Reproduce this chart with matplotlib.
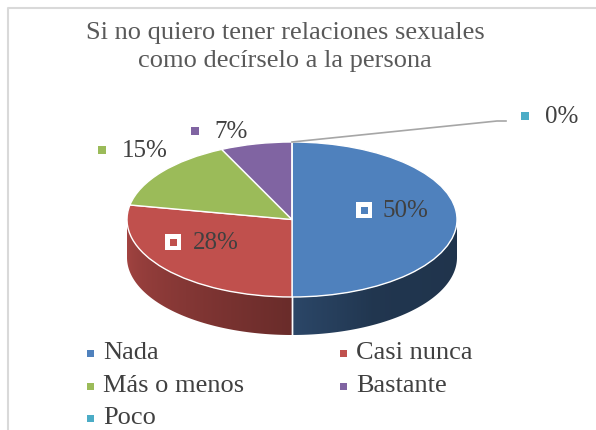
import numpy as np
import matplotlib
matplotlib.use("Agg")
import matplotlib.pyplot as plt
from matplotlib.patches import Polygon, Rectangle
from matplotlib.colors import to_rgb

# Datos
categorias = ["Nada", "Casi nunca", "Más o menos", "Bastante", "Poco"]
valores = [50, 28, 15, 7, 0]
etiquetas = ["50%", "28%", "15%", "7%", "0%"]
colores = ["#4F81BD", "#C0504D", "#9BBB59", "#8064A2", "#4BACC6"]
titulo = "Si no quiero tener relaciones sexuales\ncomo decírselo a la persona"

plt.rcParams['font.family'] = ['Liberation Serif', 'DejaVu Serif']
W, H = 596, 430
fig = plt.figure(figsize=(W / 100, H / 100), dpi=100)

# capa de fondo en pixeles
fondo = fig.add_axes([0, 0, 1, 1])
fondo.set_xlim(0, W)
fondo.set_ylim(H, 0)
fondo.axis('off')
fondo.plot([8, 8, W + 5], [H + 5, 8, 8], color="#D9D9D9", lw=1.5)

# pastel 3D simulado: elipse superior + lado frontal
cx0, cx1 = 127, 457
cy_top, cy_bot = 142, 297
prof = 38 / ((cy_bot - cy_top) / 2)
ax = fig.add_axes([cx0 / W, (H - (cy_bot + 38)) / H,
                   (cx1 - cx0) / W, (cy_bot + 38 - cy_top) / H])
cunas, _ = ax.pie(valores, colors=colores, startangle=90, counterclock=False,
                  wedgeprops=dict(edgecolor="white", linewidth=1))
for c in cunas:
    c.set_zorder(3)
ax.set_aspect('auto')
ax.axis('off')


def sombra(a):
    return np.interp(a, [-180, -90, -60, 0], [0.86, 0.55, 0.42, 0.40])


# lado frontal como imagen con degradado recortada
xs = np.linspace(-1, 1, 600)
angs = -np.degrees(np.arccos(xs))
img = np.ones((1, len(xs), 3))
for c, col in zip(cunas, colores):
    base = np.array(to_rgb(col))
    for k in (-360, 0, 360):
        m = (angs >= c.theta1 + k) & (angs <= c.theta2 + k)
        img[0, m] = base[None, :] * sombra(angs[m])[:, None]
im = ax.imshow(img, extent=(-1, 1, -1 - prof, 0), aspect='auto',
               interpolation='bilinear', zorder=1)
t = np.radians(np.linspace(-180, 0, 200))
borde = np.vstack([np.column_stack([np.cos(t), np.sin(t)]),
                   np.column_stack([np.cos(t[::-1]), np.sin(t[::-1]) - prof])])
clip = Polygon(borde, closed=True, facecolor='none', edgecolor='none',
               transform=ax.transData)
ax.add_patch(clip)
im.set_clip_path(clip)
ax.set_xlim(-1, 1)
ax.set_ylim(-1 - prof, 1)

# lineas blancas entre lados
for c in cunas:
    for tt in (c.theta1, c.theta2):
        tt = (tt + 180) % 360 - 180
        if -180 < tt < 0:
            r = np.radians(tt)
            ax.plot([np.cos(r)] * 2, [np.sin(r), np.sin(r) - prof],
                    color="white", lw=1, zorder=2)

# capa de textos encima
capa = fig.add_axes([0, 0, 1, 1])
capa.set_xlim(0, W)
capa.set_ylim(H, 0)
capa.axis('off')
capa.patch.set_alpha(0)

capa.text(285, 47, titulo, ha='center', va='center', fontsize=19,
          color="#595959", linespacing=1.32)

# etiquetas de datos
pos_etq = [(382, 211), (193, 243), (122, 151), (214, 132), (545, 117)]
pos_marca = [(364, 210), (173, 242), (102, 150), (195, 131), (525, 116)]
dentro = [True, True, False, False, False]
for et, (tx, ty), (mx, my), col, d in zip(etiquetas, pos_etq, pos_marca, colores, dentro):
    if d:
        capa.add_patch(Rectangle((mx - 8, my - 8), 16, 16, facecolor="white",
                                 edgecolor="none", zorder=5))
        capa.add_patch(Rectangle((mx - 3.5, my - 3.5), 7, 7, facecolor=col,
                                 edgecolor="none", zorder=6))
    else:
        capa.add_patch(Rectangle((mx - 4, my - 4), 8, 8, facecolor=col,
                                 edgecolor="none", zorder=5))
    capa.text(tx, ty, et, ha='left', va='center', fontsize=18,
              color="#404040", zorder=6)

# linea guia del 0%
capa.plot([292, 497, 506], [142, 121, 121], color="#A6A6A6", lw=1.2, zorder=4)

# leyenda
leg_x = [90, 343, 90, 343, 90]
leg_y = [353, 353, 386, 386, 418]
for cat, col, lx, ly in zip(categorias, colores, leg_x, leg_y):
    capa.add_patch(Rectangle((lx - 3.5, ly - 3.5), 7, 7, facecolor=col,
                             edgecolor="none"))
    capa.text(lx + 13, ly, cat, ha='left', va='center', fontsize=19,
              color="#404040")

fig.savefig("out.png", dpi=100)
